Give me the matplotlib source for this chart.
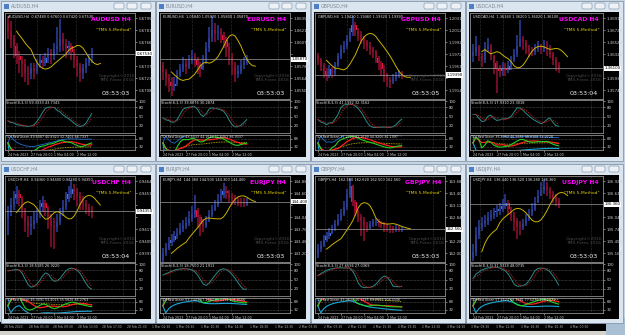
import numpy as np
import pandas as pd
import matplotlib.pyplot as plt
import matplotlib.transforms as mtrans
from matplotlib.patches import Rectangle, FancyBboxPatch

W, H = 625, 335

# H4 bars, oldest first (first open, closes, highs, lows)
audusd_o0 = 0.6790
audusd_c = [0.6780, 0.6770, 0.6762, 0.6750, 0.6745, 0.6740, 0.6730, 0.6728, 0.6735, 0.6732,
            0.6740, 0.6745, 0.6742, 0.6748, 0.6752, 0.6750, 0.6758, 0.6762, 0.6770, 0.6765,
            0.6760, 0.6762, 0.6755, 0.6745, 0.6738, 0.6730, 0.6735, 0.6742, 0.6748, 0.6753]
audusd_h = [0.6798, 0.6792, 0.6775, 0.6766, 0.6756, 0.6750, 0.6746, 0.6738, 0.6742, 0.6742,
            0.6746, 0.6752, 0.6750, 0.6754, 0.6760, 0.6758, 0.6766, 0.6785, 0.6795, 0.6778,
            0.6770, 0.6768, 0.6766, 0.6758, 0.6750, 0.6742, 0.6740, 0.6748, 0.6752, 0.6760]
audusd_l = [0.6770, 0.6760, 0.6748, 0.6740, 0.6730, 0.6725, 0.6718, 0.6715, 0.6722, 0.6722,
            0.6728, 0.6735, 0.6735, 0.6738, 0.6742, 0.6740, 0.6745, 0.6752, 0.6755, 0.6756,
            0.6748, 0.6752, 0.6745, 0.6735, 0.6725, 0.6718, 0.6722, 0.6730, 0.6738, 0.6742]

eurusd_o0 = 1.0580
eurusd_c = [1.0572, 1.0565, 1.0560, 1.0555, 1.0558, 1.0568, 1.0575, 1.0582, 1.0578, 1.0585,
            1.0590, 1.0586, 1.0580, 1.0576, 1.0585, 1.0600, 1.0612, 1.0622, 1.0618, 1.0620,
            1.0616, 1.0610, 1.0602, 1.0590, 1.0580, 1.0570, 1.0573, 1.0580, 1.0584, 1.0587]
eurusd_h = [1.0584, 1.0576, 1.0570, 1.0566, 1.0566, 1.0574, 1.0582, 1.0590, 1.0588, 1.0592,
            1.0598, 1.0594, 1.0590, 1.0584, 1.0592, 1.0608, 1.0625, 1.0638, 1.0630, 1.0628,
            1.0624, 1.0620, 1.0614, 1.0606, 1.0594, 1.0584, 1.0580, 1.0586, 1.0590, 1.0592]
eurusd_l = [1.0562, 1.0555, 1.0548, 1.0544, 1.0550, 1.0556, 1.0566, 1.0572, 1.0570, 1.0576,
            1.0582, 1.0578, 1.0570, 1.0566, 1.0574, 1.0582, 1.0596, 1.0608, 1.0608, 1.0610,
            1.0606, 1.0600, 1.0590, 1.0580, 1.0568, 1.0560, 1.0565, 1.0570, 1.0576, 1.0580]

gbpusd_o0 = 1.1970
gbpusd_c = [1.1963, 1.1953, 1.1945, 1.1939, 1.1949, 1.1942, 1.1956, 1.1970, 1.1981, 1.1987,
            1.1998, 1.2009, 1.2020, 1.2012, 1.2004, 1.1998, 1.1992, 1.1987, 1.1981, 1.1976,
            1.1967, 1.1959, 1.1949, 1.1939, 1.1931, 1.1928, 1.1934, 1.1938, 1.1942, 1.1939]
gbpusd_h = [1.1975, 1.1966, 1.1958, 1.1950, 1.1955, 1.1952, 1.1960, 1.1975, 1.1988, 1.1995,
            1.2005, 1.2015, 1.2035, 1.2025, 1.2016, 1.2010, 1.2002, 1.1996, 1.1992, 1.1985,
            1.1980, 1.1970, 1.1962, 1.1955, 1.1942, 1.1936, 1.1940, 1.1944, 1.1948, 1.1946]
gbpusd_l = [1.1955, 1.1945, 1.1935, 1.1930, 1.1935, 1.1935, 1.1938, 1.1952, 1.1965, 1.1975,
            1.1982, 1.1992, 1.2002, 1.2002, 1.1995, 1.1990, 1.1982, 1.1978, 1.1972, 1.1966,
            1.1958, 1.1948, 1.1938, 1.1928, 1.1920, 1.1918, 1.1924, 1.1930, 1.1934, 1.1932]

usdcad_o0 = 1.3630
usdcad_c = [1.3637, 1.3644, 1.3630, 1.3623, 1.3641, 1.3647, 1.3630, 1.3619, 1.3609, 1.3606,
            1.3610, 1.3608, 1.3613, 1.3623, 1.3633, 1.3647, 1.3658, 1.3652, 1.3644, 1.3638,
            1.3637, 1.3641, 1.3644, 1.3641, 1.3647, 1.3644, 1.3633, 1.3623, 1.3616, 1.3610]
usdcad_h = [1.3650, 1.3662, 1.3648, 1.3635, 1.3652, 1.3660, 1.3650, 1.3632, 1.3622, 1.3615,
            1.3620, 1.3618, 1.3622, 1.3630, 1.3642, 1.3665, 1.3688, 1.3662, 1.3656, 1.3648,
            1.3645, 1.3650, 1.3654, 1.3650, 1.3656, 1.3655, 1.3648, 1.3636, 1.3628, 1.3620]
usdcad_l = [1.3620, 1.3630, 1.3622, 1.3612, 1.3618, 1.3636, 1.3624, 1.3600, 1.3570, 1.3596,
            1.3598, 1.3598, 1.3602, 1.3608, 1.3620, 1.3628, 1.3645, 1.3640, 1.3634, 1.3628,
            1.3630, 1.3632, 1.3636, 1.3634, 1.3636, 1.3630, 1.3626, 1.3615, 1.3606, 1.3602]

usdchf_o0 = 0.9428
usdchf_c = [0.9434, 0.9441, 0.9448, 0.9452, 0.9448, 0.9436, 0.9425, 0.9421, 0.9423, 0.9427,
            0.9432, 0.9439, 0.9443, 0.9438, 0.9430, 0.9421, 0.9420, 0.9425, 0.9432, 0.9439,
            0.9447, 0.9452, 0.9457, 0.9454, 0.9450, 0.9445, 0.9443, 0.9439, 0.9436, 0.9435]
usdchf_h = [0.9440, 0.9448, 0.9455, 0.9460, 0.9456, 0.9450, 0.9438, 0.9430, 0.9430, 0.9434,
            0.9438, 0.9446, 0.9450, 0.9446, 0.9440, 0.9432, 0.9428, 0.9432, 0.9438, 0.9446,
            0.9454, 0.9460, 0.9466, 0.9462, 0.9458, 0.9454, 0.9450, 0.9446, 0.9442, 0.9440]
usdchf_l = [0.9412, 0.9430, 0.9436, 0.9442, 0.9440, 0.9428, 0.9415, 0.9410, 0.9412, 0.9418,
            0.9424, 0.9428, 0.9434, 0.9430, 0.9418, 0.9400, 0.9398, 0.9415, 0.9422, 0.9430,
            0.9436, 0.9444, 0.9448, 0.9446, 0.9440, 0.9436, 0.9436, 0.9432, 0.9430, 0.9428]

eurjpy_o0 = 143.05
eurjpy_c = [143.20, 143.32, 143.44, 143.52, 143.60, 143.68, 143.76, 143.84, 143.90, 144.00,
            144.12, 144.20, 144.04, 143.88, 143.84, 143.96, 144.10, 144.20, 144.32, 144.44,
            144.56, 144.64, 144.60, 144.52, 144.46, 144.44, 144.40, 144.38, 144.36, 144.40]
eurjpy_h = [143.32, 143.45, 143.58, 143.65, 143.72, 143.80, 143.90, 143.98, 144.04, 144.18,
            144.30, 144.56, 144.26, 144.10, 144.00, 144.08, 144.22, 144.32, 144.44, 144.58,
            144.70, 144.84, 144.76, 144.68, 144.60, 144.56, 144.52, 144.50, 144.48, 144.50]
eurjpy_l = [142.98, 143.15, 143.28, 143.38, 143.46, 143.54, 143.62, 143.70, 143.76, 143.84,
            143.94, 144.02, 143.80, 143.60, 143.70, 143.80, 143.92, 144.04, 144.18, 144.28,
            144.40, 144.50, 144.46, 144.40, 144.32, 144.32, 144.30, 144.28, 144.28, 144.30]

gbpjpy_o0 = 161.98
gbpjpy_c = [162.10, 162.20, 162.32, 162.40, 162.48, 162.56, 162.68, 162.80, 162.92, 163.08,
            163.36, 163.56, 163.20, 162.96, 162.84, 162.76, 162.64, 162.60, 162.68, 162.72,
            162.74, 162.70, 162.68, 162.64, 162.60, 162.58, 162.56, 162.58, 162.56, 162.56]
gbpjpy_h = [162.22, 162.30, 162.42, 162.50, 162.58, 162.66, 162.78, 162.92, 163.04, 163.22,
            163.50, 163.76, 163.60, 163.24, 163.00, 162.92, 162.84, 162.72, 162.76, 162.80,
            162.82, 162.80, 162.76, 162.72, 162.70, 162.66, 162.64, 162.66, 162.64, 162.62]
gbpjpy_l = [161.90, 162.04, 162.14, 162.26, 162.34, 162.44, 162.52, 162.64, 162.76, 162.88,
            163.02, 163.28, 163.10, 162.86, 162.72, 162.40, 162.28, 162.50, 162.56, 162.62,
            162.64, 162.62, 162.58, 162.50, 162.50, 162.48, 162.48, 162.50, 162.50, 162.50]

usdjpy_o0 = 135.05
usdjpy_c = [135.20, 135.60, 135.80, 135.90, 135.96, 136.04, 136.10, 136.16, 136.20, 136.24,
            136.32, 136.40, 136.24, 136.10, 135.96, 135.84, 135.80, 135.88, 136.00, 136.12,
            136.24, 136.40, 136.56, 136.72, 136.80, 136.70, 136.60, 136.52, 136.44, 136.36]
usdjpy_h = [135.40, 135.80, 135.98, 136.06, 136.10, 136.16, 136.22, 136.28, 136.34, 136.40,
            136.50, 136.62, 136.46, 136.30, 136.16, 136.02, 135.96, 136.00, 136.12, 136.24,
            136.38, 136.54, 136.70, 136.90, 136.98, 136.90, 136.78, 136.68, 136.60, 136.52]
usdjpy_l = [134.98, 135.10, 135.50, 135.70, 135.80, 135.86, 135.94, 136.00, 136.06, 136.10,
            136.16, 136.24, 136.10, 135.94, 135.70, 135.50, 135.60, 135.72, 135.84, 135.96,
            136.08, 136.20, 136.38, 136.56, 136.62, 136.56, 136.48, 136.40, 136.32, 136.28]

symbols = ["AUDUSD", "EURUSD", "GBPUSD", "USDCAD", "USDCHF", "EURJPY", "GBPJPY", "USDJPY"]
price_range = [(0.6698, 0.6802), (1.0540, 1.0642), (1.1900, 1.2040), (1.3560, 1.3700),
               (0.9385, 0.9470), (143.00, 145.00), (161.80, 163.80), (134.95, 137.05)]
digits = [5, 5, 5, 5, 5, 3, 3, 3]
timers = ["03:53:03", "03:53:03", "03:53:05", "03:53:04",
          "03:53:04", "03:53:03", "03:53:03", "03:53:03"]
date_ticks = [0, 8, 16, 24]
date_labels = ["24 Feb 2023", "27 Feb 20:00", "1 Mar 04:00", "2 Mar 12:00"]
strip_labels = ["28 Feb 2023", "28 Feb 05:30", "28 Feb 09:30", "28 Feb 13:30", "28 Feb 17:30",
                "28 Feb 21:30", "1 Mar 02:30", "1 Mar 06:30", "1 Mar 10:30", "1 Mar 14:30",
                "1 Mar 18:30", "1 Mar 22:30", "2 Mar 03:30", "2 Mar 07:30", "2 Mar 11:30",
                "2 Mar 15:30", "2 Mar 19:30", "2 Mar 23:30", "3 Mar 04:30", "3 Mar 08:30",
                "3 Mar 12:30", "3 Mar 16:30", "3 Mar 20:30", "4 Mar 00:30"]

bars = {
    "AUDUSD": (audusd_o0, audusd_c, audusd_h, audusd_l),
    "EURUSD": (eurusd_o0, eurusd_c, eurusd_h, eurusd_l),
    "GBPUSD": (gbpusd_o0, gbpusd_c, gbpusd_h, gbpusd_l),
    "USDCAD": (usdcad_o0, usdcad_c, usdcad_h, usdcad_l),
    "USDCHF": (usdchf_o0, usdchf_c, usdchf_h, usdchf_l),
    "EURJPY": (eurjpy_o0, eurjpy_c, eurjpy_h, eurjpy_l),
    "GBPJPY": (gbpjpy_o0, gbpjpy_c, gbpjpy_h, gbpjpy_l),
    "USDJPY": (usdjpy_o0, usdjpy_c, usdjpy_h, usdjpy_l),
}


def P(x, y, w, h):
    # pixel box (top-left origin) -> figure fraction
    return [x / W, 1 - (y + h) / H, w / W, h / H]


def style(ax):
    ax.set_facecolor("black")
    for s in ax.spines.values():
        s.set_color("#8c8c8c")
        s.set_linewidth(0.6)
    ax.yaxis.tick_right()
    ax.tick_params(axis="y", labelsize=2.8, colors="#cfcfcf", length=1.5, width=0.4, pad=1)
    ax.tick_params(axis="x", bottom=False, labelbottom=False)
    ax.set_xlim(-1, 44)
    for gx in [2.5, 10, 23.5, 40]:
        ax.axvline(gx, color="#5c5c5c", lw=0.4, ls=(0, (1, 1.5)))


fig = plt.figure(figsize=(6.25, 3.35), dpi=100, facecolor="#c6d3e1")
bg = fig.add_axes([0, 0, 1, 1])
bg.set_xlim(0, W)
bg.set_ylim(H, 0)
bg.axis("off")

# background chart time strip at the bottom
bg.add_patch(Rectangle((0, 322), 606, 9, fc="black", ec="none"))
bg.add_patch(Rectangle((0, 331), W, 4, fc="#d5d2cb", ec="none"))
bg.add_patch(Rectangle((606, 318), 19, 17, fc="#a9bfd4", ec="none"))
for i, lab in enumerate(strip_labels):
    bg.text(4 + i * 24.6, 326.5, lab, fontsize=2.2, color="#b5b5b5", va="center")

windows = [(0, 0), (155, 0), (310, 0), (465, 0), (0, 163), (155, 163), (310, 163), (465, 163)]

for k, sym in enumerate(symbols):
    x0, y0 = windows[k]
    w = 158 if x0 == 465 else 155
    h = 161 if y0 == 0 else 160
    o0, c, hi, lo = bars[sym]
    c = pd.Series(c)
    hi = pd.Series(hi)
    lo = pd.Series(lo)
    o = pd.Series([o0] + list(c[:-1]))
    x = np.arange(len(c))
    dg = digits[k]

    # window frame, title bar and buttons
    bg.add_patch(Rectangle((x0 + 0.5, y0 + 0.5), w - 1, h - 1, fc="#dbe5ef", ec="#8497ad", lw=0.6))
    bg.add_patch(Rectangle((x0 + 4, y0 + 3.5), 5, 5, fc="#4d7fc4", ec="none"))
    bg.text(x0 + 11, y0 + 6.3, f"{sym},H4", fontsize=3.4, color="#7d8896", va="center")
    for bx in (w - 41, w - 28, w - 14):
        bg.add_patch(FancyBboxPatch((x0 + bx, y0 + 3), 10, 6, boxstyle="round,pad=0,rounding_size=1.5",
                                    fc="#eef2f7", ec="#8a9bb0", lw=0.5))
    cx, cy, cw = x0 + 4, y0 + 12, w - 8
    bg.add_patch(Rectangle((cx, cy), cw, h - 16, fc="black", ec="none"))
    pw = cw - 17

    # ---- main price chart ----
    ax = fig.add_axes(P(cx + 1, cy + 1, pw, 86))
    style(ax)
    up = c >= o
    ax.vlines(x[up], lo[up], hi[up], color="#26378a", lw=1.3)
    ax.vlines(x[~up], lo[~up], hi[~up], color="#7c0f2c", lw=1.3)
    ax.bar(x[up], (c - o)[up], bottom=o[up], width=0.75, color="#4470e6", lw=0)
    ax.bar(x[~up], (o - c)[~up], bottom=c[~up], width=0.75, color="#e3173f", lw=0)
    ma = c.rolling(6, min_periods=1).mean()
    ax.plot(x + 3, ma, color="#c9b300", lw=0.7)
    ymin, ymax = price_range[k]
    ax.set_ylim(ymin, ymax)
    r = ymax - ymin
    last = c.iloc[-1]
    ticks = np.linspace(ymin + 0.1 * r, ymax - 0.06 * r, 7)
    ax.set_yticks(ticks)
    ax.set_yticklabels(["" if abs(t - last) < 0.08 * r else f"{t:.{dg}f}" for t in ticks])
    ax.axhline(last, color="#9a9a9a", lw=0.5)
    tr = mtrans.blended_transform_factory(ax.transAxes, ax.transData)
    ax.text(1.01, last, f"{last:.{dg}f}", transform=tr, fontsize=2.8, color="black", va="center",
            ha="left", bbox=dict(boxstyle="square,pad=0.15", fc="white", ec="none"), clip_on=False)
    ax.text(0.02, 0.975, f"{sym},H4  {o.iloc[-1]:.{dg}f} {hi.iloc[-1]:.{dg}f} {lo.iloc[-1]:.{dg}f} {last:.{dg}f}",
            transform=ax.transAxes, fontsize=2.5, color="#e6e6e6", va="top")
    ax.text(0.97, 0.955, f"{sym} H4", transform=ax.transAxes, fontsize=4.4, fontweight="bold",
            color="#ff00ff", ha="right", va="top")
    ax.text(0.97, 0.83, '"TMS 5-Method"', transform=ax.transAxes, fontsize=3.2,
            color="#e3cf00", ha="right", va="top")
    ax.text(0.72, 0.24, "Copyright©2016\nTMS-Forex 2016", transform=ax.transAxes, fontsize=3.2,
            color="#4a4a4a", ha="left", va="center", linespacing=1.0)
    ax.text(0.96, 0.04, timers[k], transform=ax.transAxes, fontsize=4.6, color="#f0f0f0",
            ha="right", va="bottom")

    # ---- stochastic (8,3,3) ----
    st = fig.add_axes(P(cx + 1, cy + 88, pw, 33))
    style(st)
    hh = hi.rolling(8, min_periods=1).max()
    ll = lo.rolling(8, min_periods=1).min()
    kline = 100 * (c - ll).rolling(3, min_periods=1).sum() / (hh - ll).rolling(3, min_periods=1).sum()
    dline = kline.rolling(3, min_periods=1).mean()
    for lv in (80, 50, 20):
        st.axhline(lv, color="#8a8a8a", lw=0.4, ls=(0, (1, 1.5)))
    st.plot(x, kline, color="#2a8c8c", lw=0.7)
    st.plot(x, dline, color="#a01818", lw=0.7, ls=(0, (1.5, 1)))
    st.set_ylim(-4, 104)
    st.set_yticks([20, 50, 80, 100])
    st.set_yticklabels(["20", "50", "80", "100"])
    st.text(0.01, 0.97, f"Stoch(8,3,3) {kline.iloc[-1]:.4f} {dline.iloc[-1]:.4f}",
            transform=st.transAxes, fontsize=2.5, color="#e6e6e6", va="top")

    # ---- TDI ----
    td = fig.add_axes(P(cx + 1, cy + 123, pw, 15))
    style(td)
    dif = c.diff().fillna(0)
    gain = dif.clip(lower=0).ewm(alpha=1 / 13, adjust=False).mean()
    loss = (-dif.clip(upper=0)).ewm(alpha=1 / 13, adjust=False).mean()
    rsi = (100 * gain / (gain + loss)).fillna(50)
    green = rsi.rolling(2, min_periods=1).mean()
    red = rsi.rolling(7, min_periods=1).mean()
    mid = rsi.rolling(34, min_periods=1).mean()
    sd = rsi.rolling(34, min_periods=2).std().fillna(0)
    upb, lob = mid + 1.6 * sd, mid - 1.6 * sd
    td.axhline(68, color="#8a8a8a", lw=0.4, ls=(0, (1, 1.5)))
    td.axhline(32, color="#8a8a8a", lw=0.4, ls=(0, (1, 1.5)))
    td.plot(x, upb, color="#1f6fd0", lw=0.6)
    td.plot(x, lob, color="#19a8d8", lw=0.8)
    td.plot(x, mid, color="#d8c400", lw=0.6, ls=(0, (1, 1)))
    td.plot(x, red, color="#ff1e1e", lw=0.9)
    td.plot(x, green, color="#22d022", lw=0.8)
    td.set_ylim(18, 85)
    td.set_yticks([68, 32])
    td.set_yticklabels(["68", "32"])
    td.text(0.01, 0.97, f"TDI Red Green {green.iloc[-1]:.4f} {red.iloc[-1]:.4f} {mid.iloc[-1]:.4f} {upb.iloc[-1]:.4f}",
            transform=td.transAxes, fontsize=2.3, color="#e6e6e6", va="top")
    td.tick_params(axis="x", bottom=True, labelbottom=True, labelsize=2.3, colors="#cfcfcf",
                   length=1.5, width=0.4, pad=0.8)
    td.set_xticks(date_ticks)
    td.set_xticklabels(date_labels, ha="left")

fig.savefig("out.png", dpi=100, facecolor=fig.get_facecolor())
